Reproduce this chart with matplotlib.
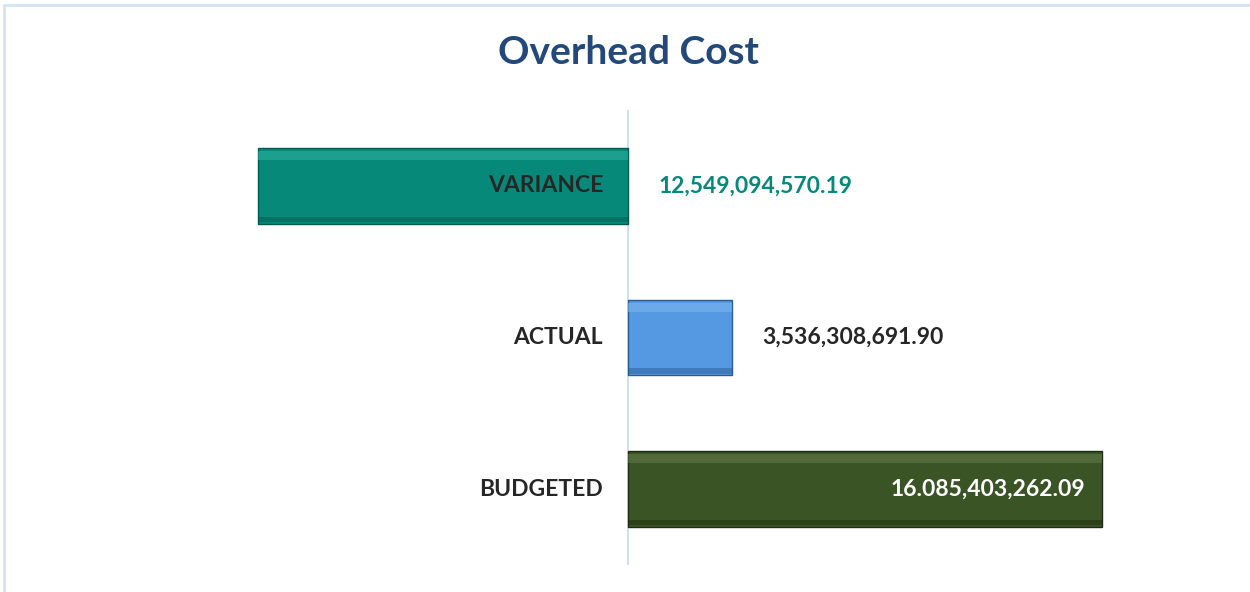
import matplotlib
matplotlib.use("Agg")
import matplotlib.pyplot as plt
from matplotlib.patches import Rectangle
import matplotlib.transforms as mtransforms

# data (bottom to top)
categories = ["BUDGETED", "ACTUAL", "VARIANCE"]
values = [16085403262.09, 3536308691.90, -12549094570.19]
value_labels = ["16.085,403,262.09", "3,536,308,691.90", "12,549,094,570.19"]

colors = ["#3B5425", "#5599E3", "#07897A"]
light = ["#5F7A47", "#7DB4EE", "#2AAE9C"]
dark = ["#1E2C12", "#2A5C93", "#045A50"]
label_colors = ["white", "#262626", "#07897A"]

plt.rcParams['font.family'] = ['Lato', 'DejaVu Sans']

fig = plt.figure(figsize=(12.5, 5.92), dpi=100)
W, H = 1250, 592

# light frame around the chart
fig.patches.append(Rectangle((4 / W, -0.1), 1.2, 1.1 - 5 / H, transform=fig.transFigure,
                             fill=False, edgecolor="#D5E2F2", linewidth=2))

ax = fig.add_axes([230 / W, 27 / H, 920 / W, 455 / H])
scale = 474 / 16085403262.09  # px per unit
ax.set_xlim(-(628 - 230) / scale, (1150 - 628) / scale)
ax.set_ylim(-0.5, 2.5)

y = list(range(len(categories)))
h = 0.5
ax.barh(y, values, height=h, color=colors, edgecolor=dark, linewidth=1.0, zorder=2)
# bevel highlights / shadows
ax.barh([v + h / 2 - 0.05 for v in y], values, height=0.06, color=light, linewidth=0, zorder=3, alpha=0.6)
ax.barh([v - h / 2 + 0.03 for v in y], values, height=0.035, color=dark, linewidth=0, zorder=3, alpha=0.5)

ax.axvline(0, color="#C6D9EF", linewidth=1.2, zorder=1)

for s in ax.spines.values():
    s.set_visible(False)
ax.set_xticks([])
ax.set_yticks([])

fs = 16.5

# category labels, right aligned just left of zero
off_left = mtransforms.offset_copy(ax.transData, fig=fig, x=-25, y=0, units='dots')
for yi, cat in zip(y, categories):
    ax.text(0, yi, cat, transform=off_left, ha='right', va='center',
            fontsize=fs, fontweight='bold', color='#262626', zorder=4)

# value labels
for yi, val, lab, c in zip(y, values, value_labels, label_colors):
    if val < 0:
        tr = mtransforms.offset_copy(ax.transData, fig=fig, x=31, y=0, units='dots')
        ax.text(0, yi, lab, transform=tr, ha='left', va='center',
                fontsize=fs, fontweight='bold', color=c, zorder=4)
    elif c == "white":
        tr = mtransforms.offset_copy(ax.transData, fig=fig, x=-17, y=0, units='dots')
        ax.text(val, yi, lab, transform=tr, ha='right', va='center',
                fontsize=fs, fontweight='bold', color=c, zorder=4)
    else:
        tr = mtransforms.offset_copy(ax.transData, fig=fig, x=30, y=0, units='dots')
        ax.text(val, yi, lab, transform=tr, ha='left', va='center',
                fontsize=fs, fontweight='bold', color=c, zorder=4)

fig.text(628 / W, 1 - 53 / H, "Overhead Cost", ha='center', va='center',
         fontsize=28, fontweight='bold', color='#23497A')

fig.savefig("out.png", dpi=100)
